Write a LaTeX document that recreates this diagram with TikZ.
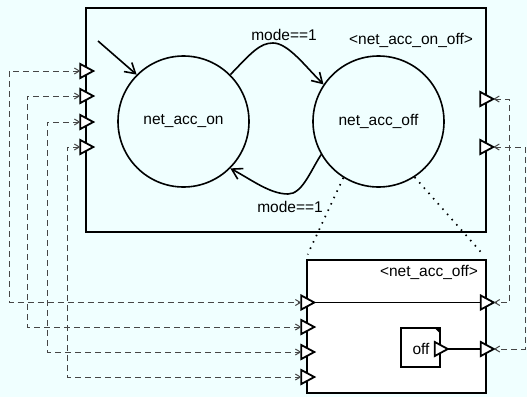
\documentclass[tikz,border=0pt]{standalone}
\usepackage{fontspec}
\setmainfont{Liberation Sans}
\usetikzlibrary{shapes.geometric,arrows.meta}
\definecolor{bgc}{RGB}{240,255,255}
\definecolor{dashc}{RGB}{70,70,70}
\begin{document}
\begin{tikzpicture}[x=1pt,y=-1pt,
  font=\fontsize{15.5}{18}\selectfont,
  box/.style={draw, line width=2pt, inner sep=0pt},
  state/.style={circle, draw, line width=1.6pt, minimum size=131pt, inner sep=0pt},
  port/.style={isosceles triangle, isosceles triangle stretches, draw, line width=1.8pt, fill=white,
    minimum width=14pt, minimum height=13pt, inner sep=0pt, outer sep=0pt},
  trans/.style={line width=1.6pt, -{Straight Barb[length=10pt,width=12pt]}},
  link/.style={dashc, line width=1pt, dash pattern=on 6pt off 4pt,
    {Straight Barb[length=5pt,width=6pt]}-{Straight Barb[length=5pt,width=6pt]}},
  refine/.style={line width=1.7pt, dash pattern=on 1.5pt off 5.5pt},
  wire/.style={line width=1.4pt},
  lbl/.style={inner sep=0pt}
]
\fill[bgc] (0,0) rectangle (527,397);
\useasboundingbox (0,0) rectangle (527,397);

% boxes
\node[box, fill=bgc, minimum width=400pt, minimum height=224pt, anchor=north west] (top) at (84.5,7) {};
\node[box, fill=white, minimum width=179.5pt, minimum height=133pt, anchor=north west] (sub) at (305.5,259) {};

% titles
\node[lbl] (toptitle) at (411,40) {<net\_acc\_on\_off>};
\node[lbl] (subtitle) at (429,272) {<net\_acc\_off>};

% states
\node[state] (on) at (183.5,121.5) {net\_acc\_on};
\node[state] (off) at (378.5,121.5) {net\_acc\_off};

% transitions
\coordinate (init) at (98,41);
\draw[trans] (init) -- (on.135);
\draw[trans] (on.45) .. controls (252,52) and (260,43) .. (273,43) .. controls (288,43) and (305,66) .. (off.146);
\node[lbl] (m1) at (284,35) {mode==1};
\draw[trans] (off.210) .. controls (310,172) and (302,194) .. (288,194) .. controls (270,194) and (252,180) .. (on.-45);
\node[lbl] (m2) at (290,207) {mode==1};

% refinement
\draw[refine, shorten >=5pt] (off.238) -- (sub.north west);
\draw[refine, shorten >=5pt] (off.-57) -- (sub.north east);

% off block
\node[draw, line width=1.6pt, fill=white, minimum size=39pt, inner sep=0pt] (offb) at (420.5,347.5) {};
\node[lbl] (offt) at (421,349) {off};
\fill (offb.north east) -- ++(-7,0) -- ++(7,7) -- cycle;

% ports
\foreach \i/\y in {1/71,2/96,3/122,4/147} \node[port] (tL\i) at (84.5,\y) {};
\node[port] (tR1) at (484.5,99) {};
\node[port] (tR2) at (484.5,147) {};
\foreach \i/\y in {1/302.5,2/327,3/352,4/377} \node[port] (sL\i) at (305.5,\y) {};
\node[port] (sR1) at (485,302.5) {};
\node[port] (sR2) at (485,349) {};
\node[port] (offp) at (439,349) {};

% wires inside sub
\draw[wire] (sL1.apex) -- (sR1.west);
\draw[wire] (offp.apex) -- (sR2.west);

% dashed links
\coordinate (xL1) at (9,0);
\coordinate (xL2) at (27,0);
\coordinate (xL3) at (47,0);
\coordinate (xL4) at (67,0);
\coordinate (xR1) at (509,0);
\coordinate (xR2) at (525,0);
\foreach \i in {1,2,3,4}
  \draw[link] (tL\i.west) -- (xL\i |- tL\i.west) |- (sL\i.west);
\foreach \i in {1,2}
  \draw[link] (tR\i.apex) -- (xR\i |- tR\i.apex) |- (sR\i.apex);
\end{tikzpicture}
\end{document}
